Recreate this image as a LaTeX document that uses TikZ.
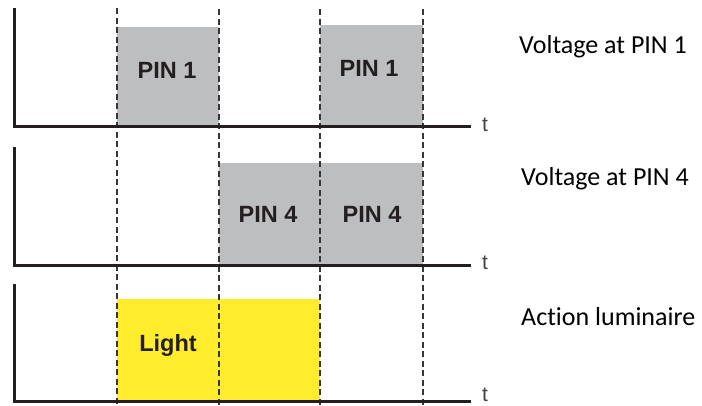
\documentclass[tikz,border=0pt]{standalone}
\usepackage{fontspec}
\setmainfont{Carlito}[Ligatures=NoCommon]
\newfontfamily\arialf{Liberation Sans}
\definecolor{axisblack}{HTML}{231F20}
\definecolor{pingray}{HTML}{BDBEC0}
\definecolor{lightyellow}{HTML}{FFEC2C}
\begin{document}
\begin{tikzpicture}[x=1pt,y=-1pt,
  axis/.style={line width=3pt, draw=axisblack, line join=miter},
  guide/.style={line width=2.4pt, draw=axisblack!90, dash pattern=on 6pt off 3.5pt},
  pinlabel/.style={font=\arialf\bfseries\fontsize{23.5}{23.5}\selectfont, text=axisblack, anchor=base, inner sep=0pt},
  tlabel/.style={font=\arialf\fontsize{21}{21}\selectfont, anchor=base west, inner sep=0pt, text=axisblack!85},
  caption/.style={font=\fontsize{26}{26}\selectfont, anchor=base west, inner sep=0pt, text=black}]
\useasboundingbox (0,0) rectangle (702,405);
% pulses
\fill[pingray] (117,27) rectangle (219,126);
\fill[pingray] (320,25) rectangle (423,126);
\fill[pingray] (219,163) rectangle (423,265);
\fill[lightyellow] (117,299) rectangle (320,401);
% dashed time marks
\draw[guide] (117,8) -- (117,405);
\draw[guide] (219,9) -- (219,405);
\draw[guide] (320,9) -- (320,405);
\draw[guide] (423,9) -- (423,405);
% axes
\draw[axis] (14.5,8) |- (471,126);
\draw[axis] (14.5,147) |- (471,265);
\draw[axis] (14.5,284) |- (471,401);
% pulse labels
\node[pinlabel] (p1a) at (167,78) {PIN 1};
\node[pinlabel] (p1b) at (369,76) {PIN 1};
\node[pinlabel] (p4a) at (268,222) {PIN 4};
\node[pinlabel] (p4b) at (372,222) {PIN 4};
\node[pinlabel] (light) at (168,351) {Light};
% t labels
\node[tlabel] (t1) at (482,131) {t};
\node[tlabel] (t2) at (482,269) {t};
\node[tlabel] (t3) at (482,401.5) {t};
% captions
\node[caption] (c1) at (519,53) {Voltage at PIN 1};
\node[caption] (c2) at (521,185) {Voltage at PIN 4};
\node[caption] (c3) at (521,325) {Action luminaire};
\end{tikzpicture}
\end{document}
